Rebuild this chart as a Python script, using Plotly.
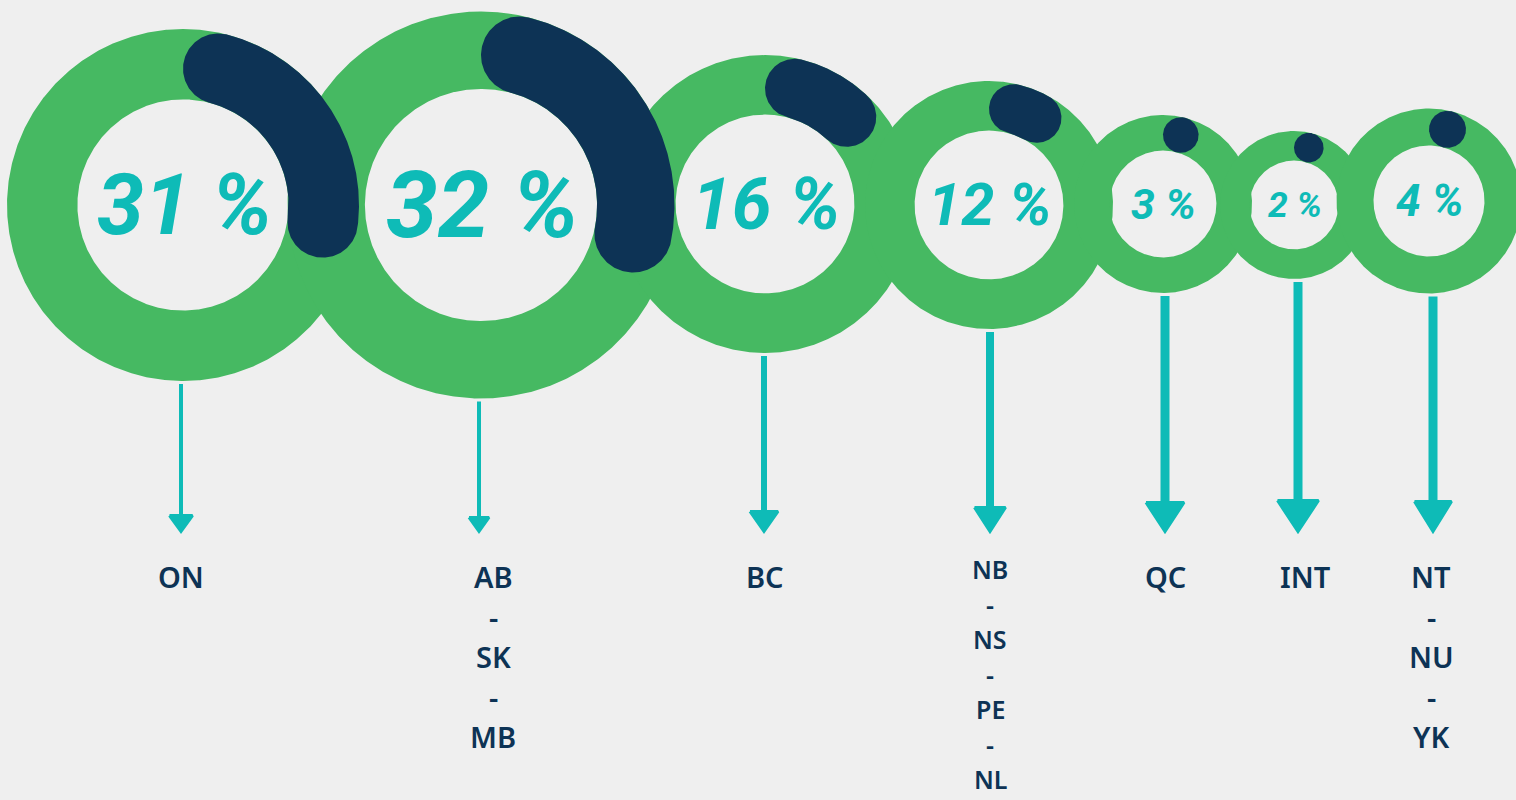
import numpy as np
import plotly.graph_objects as go

# ---------------- data ----------------
regions = ["ON", "AB-SK-MB", "BC", "NB-NS-PE-NL", "QC", "INT", "NT-NU-YK"]
share_pct = [31, 32, 16, 12, 3, 2, 4]

# ---------------- layout (pixel geometry, styles) ----------------
ring_cx = [183, 481, 765, 989, 1163, 1294, 1429]
ring_cy = [205, 205, 204, 205, 204, 205, 201]
ring_r = [176, 193.5, 149, 124, 89, 74, 92.5]
arrow_dx = [-2, -2, -1, 1, 2, 4, 4]
label_dx = [-2, 12, 0, 1, 2, 11, 2]
arrow_lw = [4, 4, 6, 8, 9, 9, 9]
head_w = [26, 23, 31, 34, 41, 44, 40]
head_h = [19, 17, 23, 27, 32, 34, 33]
label_size = [29, 29, 29, 25, 29, 29, 29]
label_gap = [40, 40, 40, 35, 40, 40, 40]
label_y0 = [576, 576, 576, 569, 576, 576, 576]
ARROW_TIP = 533
HOLE = 0.6

GREEN = "#46B962"
NAVY = "#0D3355"
TEAL = "#0EBBB7"
BG = "#EFEFEF"

W, H = 1516, 800


def pt(cx, cy, rho, th):
    return cx + rho * np.sin(th), cy - rho * np.cos(th)


fig = go.Figure()

# green rings
for cx, cy, R in zip(ring_cx, ring_cy, ring_r):
    th = np.linspace(0, 2 * np.pi, 721)
    xo, yo = pt(cx, cy, R, th)
    xi, yi = pt(cx, cy, HOLE * R, th[::-1])
    fig.add_trace(go.Scatter(
        x=np.concatenate([xo, xi]), y=np.concatenate([yo, yi]),
        mode="lines", fill="toself", fillcolor=GREEN,
        line=dict(width=0, color=GREEN), hoverinfo="skip"))

# navy progress arcs with rounded caps
for cx, cy, R, pct in zip(ring_cx, ring_cy, ring_r, share_pct):
    m = (1 + HOLE) / 2 * R
    h = (1 - HOLE) / 2 * R
    delta = np.arcsin(h / m)
    t1 = delta
    t2 = max(delta, pct / 100 * 2 * np.pi - delta)
    xs, ys = [], []
    th = np.linspace(t1, t2, 300)
    x, y = pt(cx, cy, R, th)
    xs += list(x); ys += list(y)
    phi = np.linspace(0, np.pi, 120)
    c = pt(cx, cy, m, t2)
    u = (np.sin(t2), -np.cos(t2)); tv = (np.cos(t2), np.sin(t2))
    xs += list(c[0] + h * (np.cos(phi) * u[0] + np.sin(phi) * tv[0]))
    ys += list(c[1] + h * (np.cos(phi) * u[1] + np.sin(phi) * tv[1]))
    x, y = pt(cx, cy, HOLE * R, th[::-1])
    xs += list(x); ys += list(y)
    c = pt(cx, cy, m, t1)
    u = (np.sin(t1), -np.cos(t1)); tv = (np.cos(t1), np.sin(t1))
    xs += list(c[0] - h * (np.cos(phi) * u[0] + np.sin(phi) * tv[0]))
    ys += list(c[1] - h * (np.cos(phi) * u[1] + np.sin(phi) * tv[1]))
    fig.add_trace(go.Scatter(
        x=xs, y=ys, mode="lines", fill="toself", fillcolor=NAVY,
        line=dict(width=0, color=NAVY), hoverinfo="skip"))

# arrows
for cx, cy, R, dx, lw, hw, hh in zip(ring_cx, ring_cy, ring_r, arrow_dx,
                                     arrow_lw, head_w, head_h):
    ax = cx + dx
    top = cy + R + 3
    fig.add_trace(go.Scatter(
        x=[ax, ax], y=[top, ARROW_TIP - hh + 2], mode="lines",
        line=dict(width=lw, color=TEAL), hoverinfo="skip"))
    fig.add_trace(go.Scatter(
        x=[ax - hw / 2 + 1.5, ax + hw / 2 - 1.5, ax, ax - hw / 2 + 1.5],
        y=[ARROW_TIP - hh + 1.5, ARROW_TIP - hh + 1.5, ARROW_TIP - 1.5,
           ARROW_TIP - hh + 1.5],
        mode="lines", fill="toself", fillcolor=TEAL,
        line=dict(width=3, color=TEAL), hoverinfo="skip"))

annotations = []
# percentage texts
for cx, cy, R, pct in zip(ring_cx, ring_cy, ring_r, share_pct):
    annotations.append(dict(
        x=cx + 0.01 * R, y=cy, xref="x", yref="y", text=f"{pct} %",
        showarrow=False, xanchor="center", yanchor="middle",
        font=dict(family="Roboto", size=0.48 * R, color=TEAL,
                  weight="bold", style="italic")))

# region labels
for cx, name, dx, fs, gap, y0 in zip(ring_cx, regions, label_dx, label_size,
                                     label_gap, label_y0):
    parts = name.split("-")
    lines = []
    for i, p in enumerate(parts):
        if i:
            lines.append("-")
        lines.append(p)
    for j, ln in enumerate(lines):
        annotations.append(dict(
            x=cx + dx, y=y0 + j * gap, xref="x", yref="y", text=ln,
            showarrow=False, xanchor="center", yanchor="middle",
            font=dict(family="Noto Sans", size=fs, color=NAVY, weight=600)))

fig.update_layout(
    width=W, height=H, margin=dict(l=0, r=0, t=0, b=0),
    paper_bgcolor=BG, plot_bgcolor=BG, showlegend=False,
    xaxis=dict(range=[0, W], visible=False, fixedrange=True),
    yaxis=dict(range=[H, 0], visible=False, fixedrange=True),
    annotations=annotations,
)

fig.write_html(
    "out.html",
    config={"displayModeBar": False},
    post_script="document.body.style.margin='0';"
                "document.body.style.background='#EFEFEF';")
